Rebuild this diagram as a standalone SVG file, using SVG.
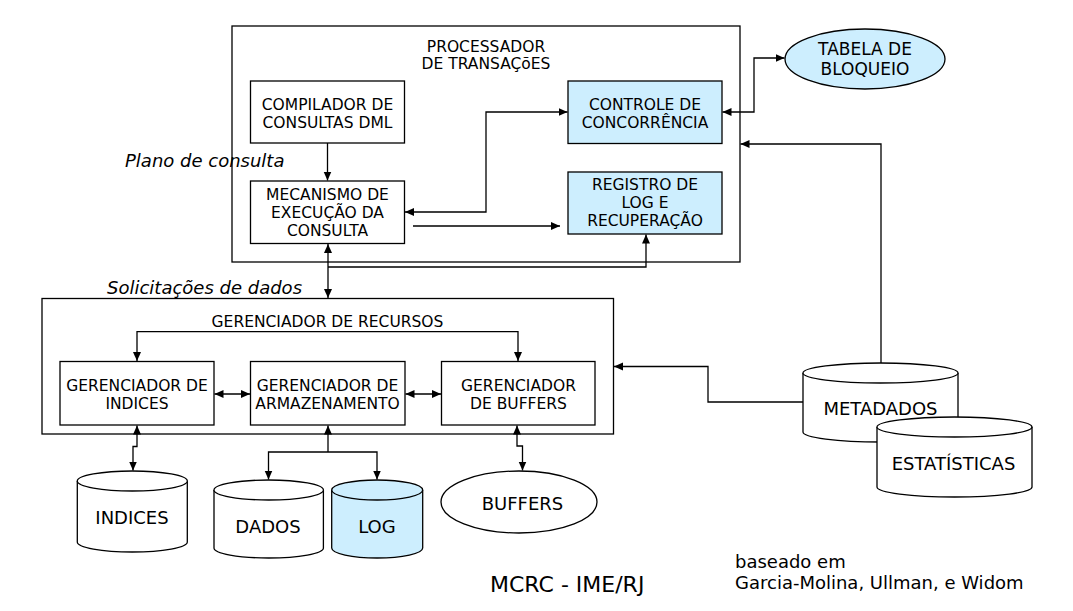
<svg xmlns="http://www.w3.org/2000/svg" width="1073" height="611" viewBox="0 0 1073 611">
<style>
text{font-family:"DejaVu Sans","Liberation Sans",sans-serif;fill:#000}
.t{font-size:15.5px;text-anchor:middle}
.b{font-size:18px;text-anchor:middle}
.i{font-size:18px;font-style:italic}
.box{fill:#fff;stroke:#000;stroke-width:1.3}
.blue{fill:#cdeefe;stroke:#000;stroke-width:1.3}
.frame{fill:none;stroke:#000;stroke-width:1.3}
.c{fill:none;stroke:#000;stroke-width:1.3}
</style>
<defs>
<marker id="ah" markerUnits="userSpaceOnUse" markerWidth="10" markerHeight="9" refX="9" refY="4" orient="auto-start-reverse">
<path d="M0,0 L9,4 L0,8 z" fill="#000"/>
</marker>
</defs>
<rect width="1073" height="611" fill="#fff"/>

<g id="processador">
<rect class="frame" x="232" y="26" width="508" height="236"/>
<text class="t" x="486" y="52">PROCESSADOR</text>
<text class="t" x="486" y="68.5">DE TRANSAÇõES</text>
</g>
<g id="compilador">
<rect class="box" x="250.5" y="81" width="154" height="62"/>
<text class="t" x="327.5" y="110">COMPILADOR DE</text>
<text class="t" x="327.5" y="127.5">CONSULTAS DML</text>
</g>
<g id="mecanismo">
<rect class="box" x="250.5" y="181" width="154" height="62.5"/>
<text class="t" x="327.5" y="200">MECANISMO DE</text>
<text class="t" x="327.5" y="218">EXECUÇÃO DA</text>
<text class="t" x="327.5" y="236">CONSULTA</text>
</g>
<g id="controle">
<rect class="blue" x="568" y="81" width="154" height="62.5"/>
<text class="t" x="645" y="110">CONTROLE DE</text>
<text class="t" x="645" y="127.5">CONCORRÊNCIA</text>
</g>
<g id="registro">
<rect class="blue" x="568" y="172" width="154" height="62"/>
<text class="t" x="645" y="190">REGISTRO DE</text>
<text class="t" x="645" y="208">LOG E</text>
<text class="t" x="645" y="226">RECUPERAÇÃO</text>
</g>
<g id="tabela">
<ellipse class="blue" cx="865" cy="59" rx="80" ry="30"/>
<text class="b" x="865" y="55" style="font-size:17px">TABELA DE</text>
<text class="b" x="865" y="75" style="font-size:17px">BLOQUEIO</text>
</g>

<g id="labels">
<text class="i" x="125" y="167">Plano de consulta</text>
<text class="i" x="107" y="294">Solicitações de dados</text>
</g>

<g id="recursos">
<rect class="frame" x="42" y="298.5" width="571.5" height="135.5"/>
<text class="t" x="327.5" y="327">GERENCIADOR DE RECURSOS</text>
</g>
<g id="ger-indices">
<rect class="box" x="60" y="361.5" width="154" height="63.5"/>
<text class="t" x="137" y="390.5">GERENCIADOR DE</text>
<text class="t" x="137" y="408.5">INDICES</text>
</g>
<g id="ger-armazenamento">
<rect class="box" x="250.5" y="361.5" width="154.5" height="63.5"/>
<text class="t" x="327.5" y="390.5">GERENCIADOR DE</text>
<text class="t" x="327.5" y="408.5">ARMAZENAMENTO</text>
</g>
<g id="ger-buffers">
<rect class="box" x="441.5" y="361.5" width="153.5" height="63.5"/>
<text class="t" x="518.5" y="390.5">GERENCIADOR</text>
<text class="t" x="518.5" y="408.5">DE BUFFERS</text>
</g>

<g id="indices">
<path class="box" d="M77.3,481 V542 A55,10 0 0 0 187.3,542 V481"/>
<ellipse class="box" cx="132.3" cy="481" rx="55" ry="10"/>
<text class="b" x="132" y="524">INDICES</text>
</g>
<g id="dados">
<path class="box" d="M214,490 V548 A54.7,10 0 0 0 323.4,548 V490"/>
<ellipse class="box" cx="268.7" cy="490" rx="54.7" ry="10"/>
<text class="b" x="268" y="532.5">DADOS</text>
</g>
<g id="log">
<path class="blue" d="M331.7,490 V548 A45.5,10 0 0 0 422.7,548 V490"/>
<ellipse class="blue" cx="377.2" cy="490" rx="45.5" ry="10"/>
<text class="b" x="377" y="532.5">LOG</text>
</g>
<g id="buffers">
<ellipse class="box" cx="519" cy="502" rx="78" ry="31"/>
<text class="b" x="522.5" y="510">BUFFERS</text>
</g>
<g id="metadados">
<path class="box" d="M803,373 V432 A77.5,10 0 0 0 958,432 V373"/>
<ellipse class="box" cx="880.5" cy="373" rx="77.5" ry="10"/>
<text class="b" x="880.5" y="415">METADADOS</text>
</g>
<g id="estatisticas">
<path class="box" d="M877,427 V487 A77.5,10 0 0 0 1032,487 V427"/>
<ellipse class="box" cx="954.5" cy="427" rx="77.5" ry="10"/>
<text class="b" x="953.5" y="470">ESTATÍSTICAS</text>
</g>

<g id="connectors">
<path class="c" d="M327.5,143 V180.5" marker-end="url(#ah)"/>
<path class="c" d="M567.5,112 H486 V212 H405" marker-start="url(#ah)" marker-end="url(#ah)"/>
<path class="c" d="M413,226 H560" marker-end="url(#ah)"/>
<path class="c" d="M328,244 V298" marker-start="url(#ah)" marker-end="url(#ah)"/>
<path class="c" d="M328,267 H646 V234.5" marker-end="url(#ah)"/>
<path class="c" d="M722.5,112 H754 V58 H784.5" marker-start="url(#ah)" marker-end="url(#ah)"/>
<path class="c" d="M881,363 V144 H740.5" marker-end="url(#ah)"/>
<path class="c" d="M803,402 H708 V366.5 H614" marker-end="url(#ah)"/>
<path class="c" d="M137,361 V331.7 H518 V361" marker-start="url(#ah)" marker-end="url(#ah)"/>
<path class="c" d="M214.5,394 H250" marker-start="url(#ah)" marker-end="url(#ah)"/>
<path class="c" d="M405.5,394 H441" marker-start="url(#ah)" marker-end="url(#ah)"/>
<path class="c" d="M137,425.5 V446.5 H133 V470.5" marker-start="url(#ah)" marker-end="url(#ah)"/>
<path class="c" d="M328,425.5 V452" marker-start="url(#ah)"/>
<path class="c" d="M268.5,479.5 V452 H377 V479.5" marker-start="url(#ah)" marker-end="url(#ah)"/>
<path class="c" d="M517,425.5 V446 H522.5 V470.5" marker-start="url(#ah)" marker-end="url(#ah)"/>
</g>

<g id="footer">
<text x="490" y="592" style="font-size:22px">MCRC - IME/RJ</text>
<text x="735" y="568" style="font-size:18px">baseado em</text>
<text x="735" y="589" style="font-size:18px">Garcia-Molina, Ullman, e Widom</text>
</g>
</svg>
